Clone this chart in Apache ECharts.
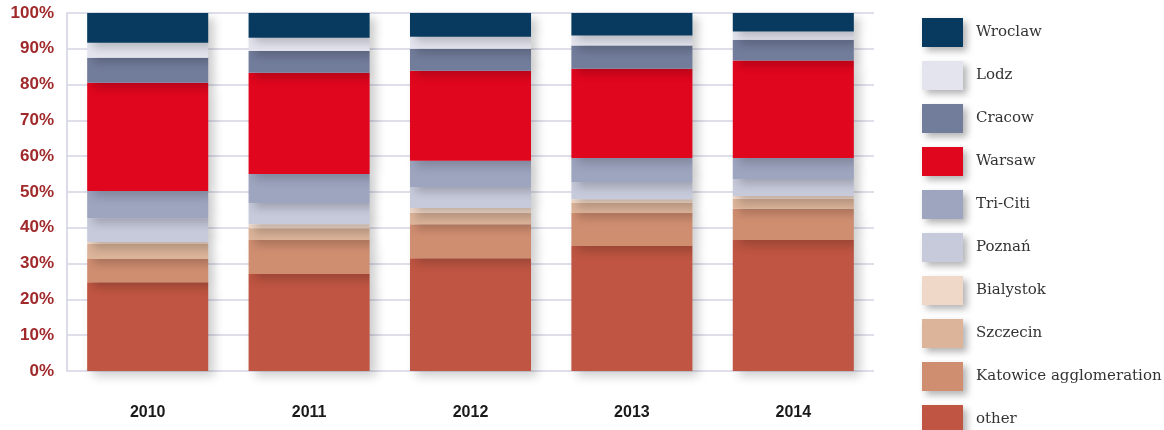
<!DOCTYPE html>
<html>
<head>
<meta charset="utf-8">
<script src="https://cdn.jsdelivr.net/npm/echarts@6/dist/echarts.min.js"></script>
<style>
  html, body { margin: 0; padding: 0; background: #ffffff; }
  #chart { width: 1164px; height: 430px; }
</style>
</head>
<body>
<div id="chart"></div>
<script>
// Share of each city per year (percent), stacked bottom to top
const years = ['2010', '2011', '2012', '2013', '2014'];
const other     = [24.8, 27.1, 31.5, 34.9, 36.6];
const katowice  = [6.5, 9.5, 9.5, 9.2, 8.7];
const szczecin  = [4.2, 3.3, 3.1, 2.8, 2.8];
const bialystok = [0.5, 1.1, 1.4, 1.1, 0.8];
const poznan    = [6.7, 5.9, 5.9, 4.8, 4.7];
const tricity   = [7.6, 8.1, 7.3, 6.7, 5.9];
const warsaw    = [30.2, 28.3, 25.2, 24.9, 27.2];
const cracow    = [7.0, 6.1, 6.1, 6.5, 5.8];
const lodz      = [4.2, 3.7, 3.4, 2.8, 2.3];
const wroclaw   = [8.3, 6.9, 6.6, 6.3, 5.2];
const yTicks    = ['0%', '10%', '20%', '30%', '40%', '50%', '60%', '70%', '80%', '90%', '100%'];

const stackOrder = [
  { name: 'other', data: other, color: '#bf5542' },
  { name: 'Katowice agglomeration', data: katowice, color: '#d08e71' },
  { name: 'Szczecin', data: szczecin, color: '#dcb49a' },
  { name: 'Bialystok', data: bialystok, color: '#f0d8c8' },
  { name: 'Poznań', data: poznan, color: '#c7cadb' },
  { name: 'Tri-Citi', data: tricity, color: '#9ea5bf' },
  { name: 'Warsaw', data: warsaw, color: '#e0061e' },
  { name: 'Cracow', data: cracow, color: '#727d9c' },
  { name: 'Lodz', data: lodz, color: '#e3e4ee' },
  { name: 'Wroclaw', data: wroclaw, color: '#073a5e' }
];

const chart = echarts.init(document.getElementById('chart'), null, { renderer: 'canvas' });

chart.setOption({
  animation: false,
  grid: { left: 67, right: 290, top: 13, bottom: 59, containLabel: false },
  legend: {
    orient: 'vertical',
    left: 922,
    top: 18,
    height: 480,
    padding: 0,
    itemWidth: 41,
    itemHeight: 29,
    itemGap: 14,
    icon: 'rect',
    data: stackOrder.map(s => s.name).reverse(),
    textStyle: { fontFamily: 'DejaVu Serif', fontSize: 15, color: '#333333', padding: [0, 0, 0, 8] },
    itemStyle: { shadowBlur: 7, shadowColor: 'rgba(0,0,0,0.3)', shadowOffsetX: 4, shadowOffsetY: 4 }
  },
  xAxis: {
    type: 'category',
    data: years,
    axisLine: { show: false },
    axisTick: { show: false },
    axisLabel: {
      margin: 34,
      fontFamily: 'Liberation Sans',
      fontWeight: 'bold',
      fontSize: 16,
      color: '#1a1a1a'
    }
  },
  yAxis: {
    type: 'value',
    min: 0,
    max: 100,
    interval: 10,
    axisLine: { show: true, lineStyle: { color: '#cfd0e0', width: 1.5 } },
    axisTick: { show: false },
    splitLine: { lineStyle: { color: '#d3d4e4', width: 1.5 } },
    axisLabel: {
      margin: 13,
      fontFamily: 'Liberation Sans',
      fontWeight: 'bold',
      fontSize: 17,
      color: '#a0292b',
      formatter: (v) => yTicks[Math.round(v / 10)]
    }
  },
  series: stackOrder.map(s => ({
    name: s.name,
    type: 'bar',
    stack: 'share',
    barWidth: '75%',
    data: s.data,
    itemStyle: {
      color: s.color,
      shadowBlur: 10,
      shadowColor: 'rgba(0,0,0,0.2)',
      shadowOffsetX: 6,
      shadowOffsetY: 5
    }
  }))
});
</script>
</body>
</html>
